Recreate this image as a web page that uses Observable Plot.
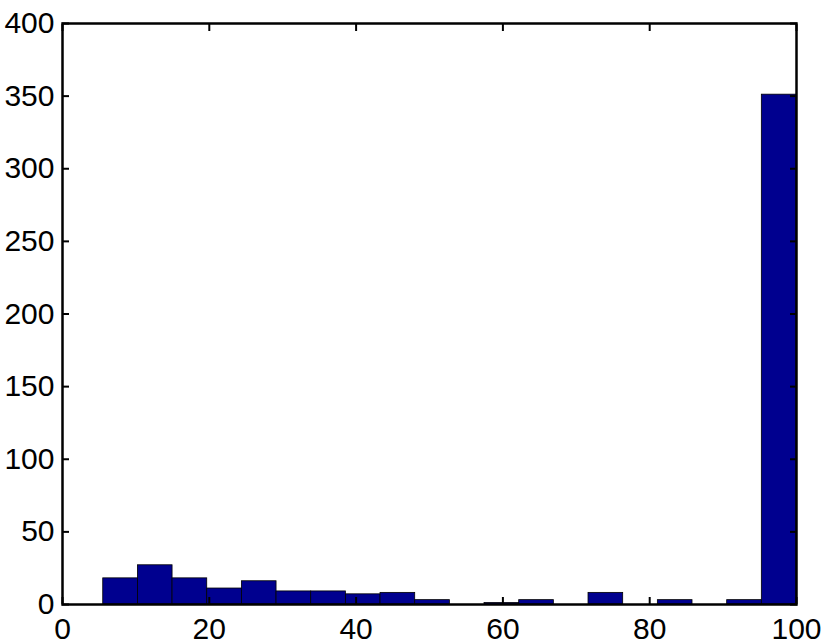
<!DOCTYPE html>
<html>
<head>
<meta charset="utf-8">
<script src="https://cdn.jsdelivr.net/npm/d3@7"></script>
<script src="https://cdn.jsdelivr.net/npm/@observablehq/plot@0.6"></script>
<style>
  html, body { margin: 0; padding: 0; background: #fff; overflow: hidden; }
</style>
</head>
<body>
<div id="chart"></div>
<script>
const binLow = 5.55;
const binHigh = 100;
const counts = [18, 27, 18, 11, 16, 9, 9, 7, 8, 3, 0, 1, 3, 0, 8, 0, 3, 0, 3, 351];
const xTicks = [0, 20, 40, 60, 80, 100];
const yTicks = [0, 50, 100, 150, 200, 250, 300, 350, 400];

const binWidth = (binHigh - binLow) / counts.length;
const bins = counts.map((c, i) => ({
  x1: binLow + i * binWidth,
  x2: binLow + (i + 1) * binWidth,
  y: c
}));

const blank = () => "";

const chart = Plot.plot({
  width: 830,
  height: 641,
  marginLeft: 62,
  marginRight: 34,
  marginTop: 23,
  marginBottom: 37,
  style: { fontFamily: "'Liberation Sans', Arial, Helvetica, sans-serif", fontSize: "30px", color: "#000", background: "#fff" },
  x: { domain: [0, 100] },
  y: { domain: [0, 400] },
  marks: [
    Plot.rectY(bins, { x1: "x1", x2: "x2", y: "y", fill: "#00008f", stroke: "#000", strokeWidth: 0.8, inset: 0 }),
    Plot.frame({ stroke: "#000", strokeWidth: 2.5 }),
    Plot.axisX({ anchor: "bottom", ticks: xTicks, tickSize: 0, tickPadding: 13, fontSize: 30, label: null }),
    Plot.axisY({ anchor: "left", ticks: yTicks, tickSize: 0, tickPadding: 8, fontSize: 30, label: null }),
    Plot.axisX({ anchor: "bottom", ticks: xTicks, tickSize: -7, strokeWidth: 2, tickFormat: blank, label: null }),
    Plot.axisX({ anchor: "top", ticks: xTicks, tickSize: -7, strokeWidth: 2, tickFormat: blank, label: null }),
    Plot.axisY({ anchor: "left", ticks: yTicks, tickSize: -7, strokeWidth: 2, tickFormat: blank, label: null }),
    Plot.axisY({ anchor: "right", ticks: yTicks, tickSize: -7, strokeWidth: 2, tickFormat: blank, label: null })
  ]
});
document.getElementById("chart").appendChild(chart);
</script>
</body>
</html>
